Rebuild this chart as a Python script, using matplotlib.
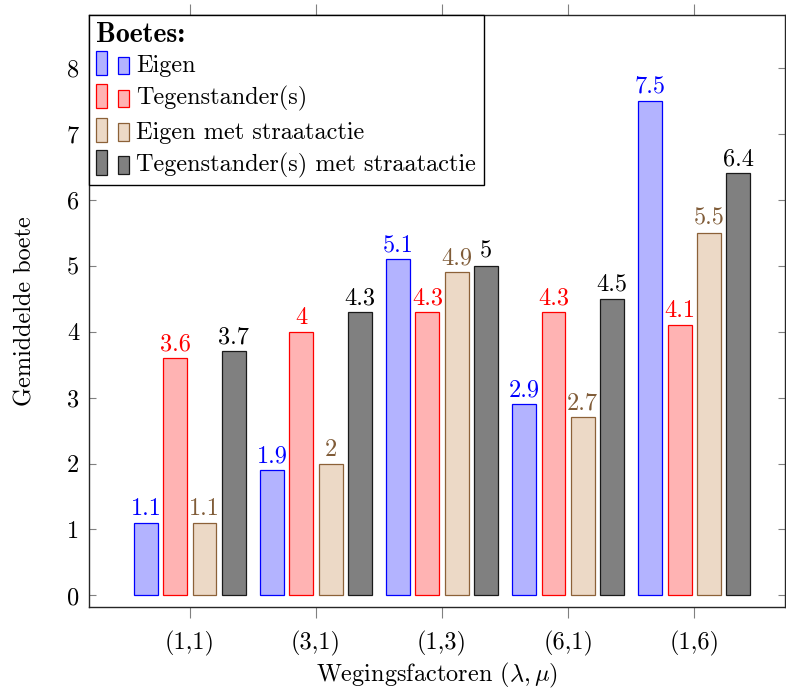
import matplotlib
matplotlib.use("Agg")
import matplotlib.pyplot as plt
import numpy as np
from matplotlib.patches import Rectangle
from matplotlib.legend_handler import HandlerBase

plt.rcParams['font.family'] = ['cmr10', 'DejaVu Serif']
plt.rcParams['mathtext.fontset'] = 'cm'
plt.rcParams['axes.unicode_minus'] = False
plt.rcParams['axes.formatter.use_mathtext'] = True

categories = ["(1,1)", "(3,1)", "(1,3)", "(6,1)", "(1,6)"]
series_names = ["Eigen", "Tegenstander(s)", "Eigen met straatactie",
                "Tegenstander(s) met straatactie"]
eigen = [1.1, 1.9, 5.1, 2.9, 7.5]
tegen = [3.6, 4.0, 4.3, 4.3, 4.1]
eigen_straat = [1.1, 2.0, 4.9, 2.7, 5.5]
tegen_straat = [3.7, 4.3, 5.0, 4.5, 6.4]
yticks = [0, 1, 2, 3, 4, 5, 6, 7, 8]

series = [eigen, tegen, eigen_straat, tegen_straat]
fills = [(0.7, 0.7, 1.0), (1.0, 0.7, 0.7), (0.925, 0.85, 0.775), (0.5, 0.5, 0.5)]
edges = [(0, 0, 1), (1, 0, 0), (0.55, 0.38, 0.22), (0.1, 0.1, 0.1)]
labelcols = [(0, 0, 1), (1, 0, 0), (0.5, 0.36, 0.22), (0, 0, 0)]

FS = 17.5

fig = plt.figure(figsize=(7.86, 6.90), dpi=100)
ax = fig.add_axes([89/786, 1 - 607/690, (785 - 89)/786, (607 - 15)/690])

x = np.arange(1, len(categories) + 1)
bw = 0.19
step = 0.232
for i, (vals, fc, ec, lc) in enumerate(zip(series, fills, edges, labelcols)):
    off = (i - 1.5) * step
    bars = ax.bar(x + off, vals, width=bw, color=fc, edgecolor=ec, linewidth=0.9,
                  label=series_names[i])
    ax.bar_label(bars, labels=[f"{v:g}" for v in vals], padding=2, color=lc,
                 fontsize=FS)

ax.set_xlim(0.2, 5.72)
ax.set_ylim(-0.175, 8.8)
ax.set_xticks(x)
ax.set_xticklabels(categories, fontsize=FS)
ax.set_yticks(yticks)
ax.set_yticklabels([str(t) for t in yticks], fontsize=FS)

ax.tick_params(axis='x', which='both', direction='out', length=8, width=0.8,
               color=(0.5, 0.5, 0.5), top=True, bottom=True, pad=9)
ax.tick_params(axis='y', which='both', direction='in', length=5, width=0.8,
               color=(0.5, 0.5, 0.5), left=True, right=True, pad=7)
for s in ax.spines.values():
    s.set_linewidth(1.0)
    s.set_color((0.15, 0.15, 0.15))

ax.set_xlabel(r"Wegingsfactoren $(\lambda, \mu)$", fontsize=FS, labelpad=4)
ax.set_ylabel("Gemiddelde boete", fontsize=FS, labelpad=22)


class TwoBarHandler(HandlerBase):
    def create_artists(self, legend, orig_handle, xdescent, ydescent, width,
                       height, fontsize, trans):
        fc = orig_handle.get_facecolor()
        ec = orig_handle.get_edgecolor()
        w = width / 3.0
        r1 = Rectangle((-xdescent, -ydescent - 0.1 * height), w, height * 1.25,
                       facecolor=fc, edgecolor=ec, linewidth=0.9, transform=trans)
        r2 = Rectangle((-xdescent + 2 * w, -ydescent - 0.05 * height), w,
                       height * 0.9, facecolor=fc, edgecolor=ec, linewidth=0.9,
                       transform=trans)
        return [r1, r2]


handles, labels = ax.get_legend_handles_labels()
handles = [h.patches[0] for h in handles]
leg = ax.legend(handles, labels, loc='upper left', bbox_to_anchor=(0, 1),
                borderaxespad=0, fancybox=False, framealpha=1, edgecolor='black',
                fontsize=FS, title="Boetes:", alignment='left',
                handler_map={Rectangle: TwoBarHandler()},
                handlelength=1.35, handleheight=0.85, handletextpad=0.3,
                labelspacing=0.38, borderpad=0.3)
leg.get_title().set_fontfamily('cmb10')
leg.get_title().set_fontsize(20)
leg.get_frame().set_linewidth(1.0)
leg._legend_box.sep = 4

fig.savefig("out.png", dpi=100)
